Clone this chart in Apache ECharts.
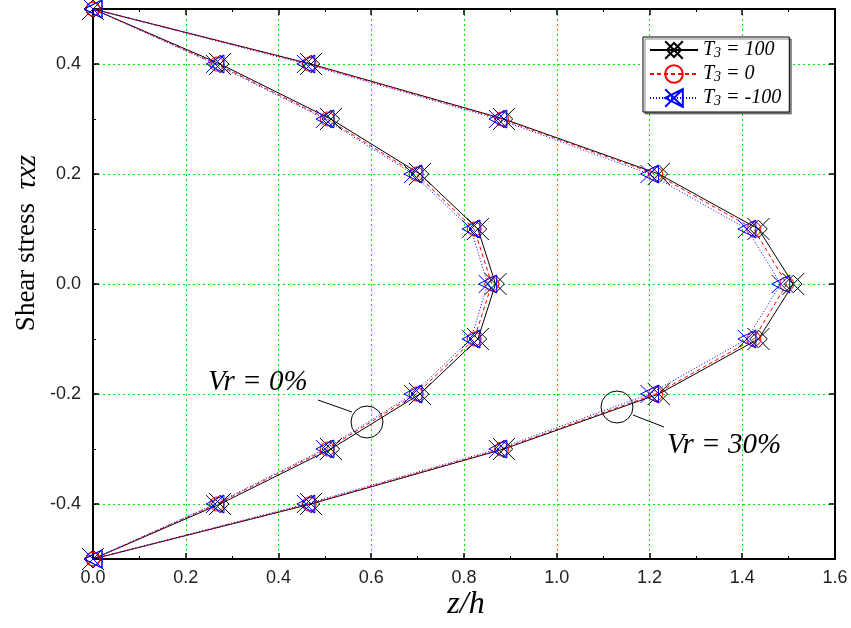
<!DOCTYPE html>
<html>
<head>
<meta charset="utf-8">
<script src="https://cdn.jsdelivr.net/npm/echarts@6/dist/echarts.min.js"></script>
<style>
  html, body { margin: 0; padding: 0; background: #fff; }
  #myChart { width: 851px; height: 628px; }
</style>
</head>
<body>
<div id="myChart"></div>
<script>
// through-thickness positions (y axis)
const yPos = [0.5, 0.4, 0.3, 0.2, 0.1, 0.0, -0.1, -0.2, -0.3, -0.4, -0.5];
const yTicks = [-0.4, -0.2, 0.0, 0.2, 0.4];

// Vr = 0% (inner curves)
const inner100 = [0, 0.274, 0.513, 0.705, 0.830, 0.868, 0.830, 0.705, 0.513, 0.274, 0];
const inner0 = [0, 0.267, 0.505, 0.697, 0.822, 0.860, 0.822, 0.697, 0.505, 0.267, 0];
const innerM100 = [0, 0.263, 0.500, 0.690, 0.815, 0.851, 0.815, 0.690, 0.500, 0.263, 0];

// Vr = 30% (outer curves)
const outer100 = [0, 0.470, 0.886, 1.220, 1.435, 1.510, 1.435, 1.220, 0.886, 0.470, 0];
const outer0 = [0, 0.466, 0.881, 1.213, 1.425, 1.496, 1.425, 1.213, 0.881, 0.466, 0];
const outerM100 = [0, 0.459, 0.873, 1.200, 1.410, 1.483, 1.410, 1.200, 0.873, 0.459, 0];

const names = ["T3 = 100", "T3 = 0", "T3 = -100"];

function pts(xs) {
  return xs.map(function(x, i) { return [x, yPos[i]]; });
}

const SYM_X_DIAMOND = "path://M2,10L10,2L18,10L10,18Z M0,0L20,20 M20,0L0,20";
const SYM_TRI_X = "path://M1,8L15,1L15,15Z M1,1L15,15 M15,1L1,15";

const styles = [
  { color: "#000", type: "solid", symbol: SYM_X_DIAMOND, size: 22 },
  { color: "#ff0000", type: [4, 3], symbol: "circle", size: 14 },
  { color: "#0000ff", type: [1, 2], symbol: SYM_TRI_X, size: 18 }
];

const groups = [
  [inner100, outer100],
  [inner0, outer0],
  [innerM100, outerM100]
];

const series = [];
groups.forEach(function(g, k) {
  const st = styles[k];
  g.forEach(function(xs) {
    series.push({
      name: names[k],
      type: "line",
      data: pts(xs),
      symbol: st.symbol,
      symbolSize: st.size,
      clip: false,
      lineStyle: { color: st.color, width: 1, type: st.type },
      itemStyle: { color: "rgba(0,0,0,0)", borderColor: st.color, borderWidth: 1 }
    });
  });
});

const gridColor = "#00ee00";
const labelFont = { fontFamily: "Liberation Sans, Arial", fontSize: 18, color: "#222" };

const option = {
  animation: false,
  backgroundColor: "#fff",
  grid: { left: 93, right: 16, top: 9, bottom: 69 },
  legend: {
    data: names,
    orient: "vertical",
    left: 643,
    top: 37,
    itemWidth: 48,
    itemHeight: 22,
    itemGap: 4,
    padding: [3, 8, 4, 6],
    backgroundColor: "#fff",
    borderColor: "#000",
    borderWidth: 1,
    shadowColor: "rgba(0,0,0,0.45)",
    shadowOffsetX: 2,
    shadowOffsetY: 2,
    formatter: function(name) {
      return "{t|T}{s|3}{t|" + name.slice(2) + "}";
    },
    textStyle: {
      rich: {
        t: { fontFamily: "Liberation Serif", fontStyle: "italic", fontSize: 20, color: "#000" },
        s: { fontFamily: "Liberation Serif", fontStyle: "italic", fontSize: 14, color: "#000", verticalAlign: "bottom", padding: [6, 0, 0, 0] }
      }
    }
  },
  xAxis: [
    {
      type: "value", min: 0, max: 1.6, interval: 0.2,
      axisLine: { show: true, onZero: false, lineStyle: { color: "#000", width: 2 } },
      axisTick: { inside: true, length: 6, lineStyle: { color: "#000", width: 1.5 } },
      minorTick: { show: true, splitNumber: 2, length: 3, lineStyle: { color: "#000" } },
      axisLabel: Object.assign({ margin: 10, formatter: function(v) { return v.toFixed(1); } }, labelFont),
      splitLine: { show: true, lineStyle: { color: gridColor, type: [2, 3], width: 1 } }
    },
    {
      type: "value", min: 0, max: 1.6, interval: 0.2, position: "top",
      axisLine: { show: true, onZero: false, lineStyle: { color: "#000", width: 2 } },
      axisTick: { inside: true, length: 6, lineStyle: { color: "#000", width: 1.5 } },
      minorTick: { show: true, splitNumber: 2, length: 3, lineStyle: { color: "#000" } },
      axisLabel: { show: false },
      splitLine: { show: false }
    }
  ],
  yAxis: [
    {
      type: "value", min: -0.5, max: 0.5, position: "left",
      axisLine: { show: true, onZero: false, lineStyle: { color: "#000", width: 2 } },
      axisTick: { inside: true, length: 6, customValues: yTicks, lineStyle: { color: "#000", width: 1.5 } },
      axisLabel: Object.assign({ margin: 12, customValues: yTicks, formatter: function(v) { return v.toFixed(1); } }, labelFont),
      splitLine: { show: true, lineStyle: { color: gridColor, type: [2, 3], width: 1 } }
    },
    {
      type: "value", min: -0.5, max: 0.5, interval: 0.1, position: "left",
      axisLine: { show: false, onZero: false },
      axisTick: { inside: true, length: 3, lineStyle: { color: "#000" } },
      axisLabel: { show: false },
      splitLine: { show: false }
    },
    {
      type: "value", min: -0.5, max: 0.5, position: "right",
      axisLine: { show: true, onZero: false, lineStyle: { color: "#000", width: 2 } },
      axisTick: { inside: true, length: 6, customValues: yTicks, lineStyle: { color: "#000", width: 1.5 } },
      axisLabel: { show: false },
      splitLine: { show: false }
    }
  ],
  graphic: [
    {
      type: "text", x: 27, y: 243, rotation: Math.PI / 2,
      style: {
        text: "{a|Shear stress  }{b|τxz}",
        textAlign: "center", textVerticalAlign: "middle",
        rich: {
          a: { fontFamily: "Liberation Serif", fontSize: 27, fill: "#000" },
          b: { fontFamily: "Liberation Serif", fontStyle: "italic", fontSize: 29, fill: "#000" }
        }
      }
    },
    {
      type: "text", x: 466, y: 605,
      style: {
        text: "z/h", font: "italic 32px 'Liberation Serif'", fill: "#000",
        textAlign: "center", textVerticalAlign: "middle"
      }
    },
    {
      type: "text", x: 208, y: 382,
      style: {
        text: "Vr = 0%", font: "italic 29px 'Liberation Serif'", fill: "#000",
        textAlign: "left", textVerticalAlign: "middle"
      }
    },
    { type: "line", shape: { x1: 318, y1: 400, x2: 352, y2: 412 }, style: { stroke: "#000", lineWidth: 1 } },
    { type: "circle", shape: { cx: 367, cy: 422, r: 16 }, style: { stroke: "#000", fill: "none", lineWidth: 1 } },
    {
      type: "text", x: 667, y: 445,
      style: {
        text: "Vr = 30%", font: "italic 29px 'Liberation Serif'", fill: "#000",
        textAlign: "left", textVerticalAlign: "middle"
      }
    },
    { type: "line", shape: { x1: 633, y1: 415, x2: 664, y2: 427 }, style: { stroke: "#000", lineWidth: 1 } },
    { type: "circle", shape: { cx: 617, cy: 407, r: 16 }, style: { stroke: "#000", fill: "none", lineWidth: 1 } }
  ],
  series: series
};

const myChart = echarts.init(document.getElementById("myChart"));
myChart.setOption(option);
</script>
</body>
</html>
